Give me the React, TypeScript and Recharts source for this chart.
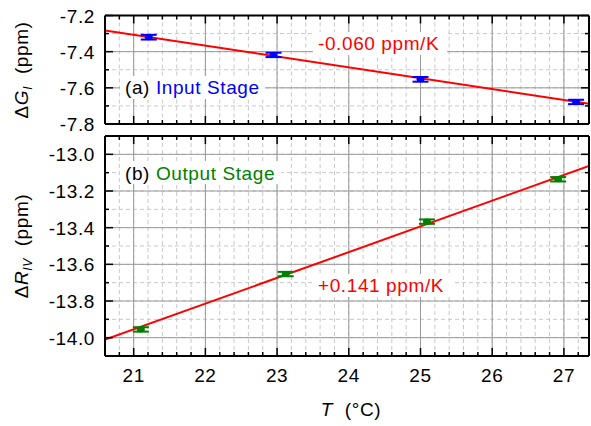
import React from 'react';
import { ComposedChart, XAxis, YAxis, CartesianGrid, ReferenceLine, Line, Scatter, ErrorBar } from 'recharts';

const FONT = '"Liberation Sans", Arial, Helvetica, sans-serif';

// temperature axis (°C)
const tempDomain: [number, number] = [20.6, 27.35];
const tempMajor = [21, 22, 23, 24, 25, 26, 27];
const tempMinor = [
    20.8, 21.2, 21.4, 21.6, 21.8, 22.2, 22.4, 22.6, 22.8, 23.2, 23.4, 23.6, 23.8,
    24.2, 24.4, 24.6, 24.8, 25.2, 25.4, 25.6, 25.8, 26.2, 26.4, 26.6, 26.8, 27.2,
];

// (a) input stage
const inputTemps = [21.21, 22.95, 25.0, 27.17];
const inputValues = [-7.32, -7.418, -7.553, -7.678];
const inputErrors = [0.013, 0.012, 0.013, 0.012];
const inputFitTemps = [20.6, 27.35];
const inputFitValues = [-7.283, -7.688];
const inputDomain: [number, number] = [-7.8, -7.2];
const inputMajor = [-7.8, -7.6, -7.4, -7.2];
const inputMinor = [-7.7, -7.5, -7.3];

// (b) output stage
const outputTemps = [21.1, 23.12, 25.09, 26.92];
const outputValues = [-13.955, -13.653, -13.367, -13.136];
const outputErrors = [0.012, 0.012, 0.012, 0.012];
const outputFitTemps = [20.6, 27.35];
const outputFitValues = [-14.011, -13.063];
const outputDomain: [number, number] = [-14.1, -12.9];
const outputMajor = [-14.0, -13.8, -13.6, -13.4, -13.2, -13.0];
const outputMinor = [-13.9, -13.7, -13.5, -13.3, -13.1];

const isIn = (list: number[], v: number) => list.some(m => Math.abs(m - v) < 1e-6);
const sortNum = (a: number, b: number) => a - b;

const axisLine = { stroke: '#000', strokeWidth: 2 };
const FS = 19;
const LS = 0.6;

const makeTick = (side: 'bottom' | 'top' | 'left' | 'right', majors: number[], showLabel: boolean) => (props: any) => {
    const { x, y, payload } = props;
    const v = payload.value;
    const major = isIn(majors, v);
    const len = major ? 8 : 4;
    let x2 = x, y2 = y;
    if (side === 'bottom') y2 = y - len;
    if (side === 'top') y2 = y + len;
    if (side === 'left') x2 = x + len;
    if (side === 'right') x2 = x - len;
    return (
        <g>
            <line x1={x} y1={y} x2={x2} y2={y2} stroke="#000" strokeWidth={1.5} />
            {showLabel && major && side === 'bottom' && (
                <text x={x} y={y + 25.5} textAnchor="middle" fontSize={FS} letterSpacing={LS} fill="#000" fontFamily={FONT}>{v}</text>
            )}
            {showLabel && major && side === 'left' && (
                <text x={x - 10} y={y + 7} textAnchor="end" fontSize={FS} letterSpacing={LS} fill="#000" fontFamily={FONT}>{v.toFixed(1)}</text>
            )}
        </g>
    );
};

interface PanelProps {
    height: number;
    margin: { top: number; right: number; bottom: number; left: number };
    domain: [number, number];
    major: number[];
    minor: number[];
    temps: number[];
    values: number[];
    errors: number[];
    fitTemps: number[];
    fitValues: number[];
    color: string;
    showXLabels: boolean;
}

const Panel: React.FC<PanelProps> = ({ height, margin, domain, major, minor, temps, values, errors, fitTemps, fitValues, color, showXLabels }) => {
    const xTicks = [...tempMajor, ...tempMinor].sort(sortNum);
    const yTicks = [...major, ...minor].sort(sortNum);
    const points = temps.map((t, i) => ({ x: t, y: values[i], err: errors[i] }));
    const fit = fitTemps.map((t, i) => ({ x: t, y: fitValues[i] }));
    return (
        <ComposedChart width={591} height={height} margin={margin}>
            <CartesianGrid xAxisId="b" yAxisId="l" stroke="#c8c8c8" strokeDasharray="4 3" strokeWidth={1} />
            {tempMajor.map(t => (
                <ReferenceLine key={'x' + t} xAxisId="b" yAxisId="l" x={t} stroke="#999" strokeWidth={1} />
            ))}
            {major.map(v => (
                <ReferenceLine key={'y' + v} xAxisId="b" yAxisId="l" y={v} stroke="#999" strokeWidth={1} />
            ))}
            <XAxis xAxisId="b" orientation="bottom" type="number" dataKey="x" domain={tempDomain} ticks={xTicks} interval={0}
                allowDataOverflow height={1} tickSize={0} tickMargin={0} tickLine={false} axisLine={axisLine}
                tick={makeTick('bottom', tempMajor, showXLabels)} />
            <XAxis xAxisId="t" orientation="top" type="number" dataKey="x" domain={tempDomain} ticks={xTicks} interval={0}
                allowDataOverflow height={1} tickSize={0} tickMargin={0} tickLine={false} axisLine={axisLine}
                tick={makeTick('top', tempMajor, false)} />
            <YAxis yAxisId="l" orientation="left" type="number" dataKey="y" domain={domain} ticks={yTicks} interval={0}
                allowDataOverflow width={105} tickSize={0} tickMargin={0} tickLine={false} axisLine={axisLine}
                tick={makeTick('left', major, true)} />
            <YAxis yAxisId="r" orientation="right" type="number" dataKey="y" domain={domain} ticks={yTicks} interval={0}
                allowDataOverflow width={1} tickSize={0} tickMargin={0} tickLine={false} axisLine={axisLine}
                tick={makeTick('right', major, false)} />
            <Line xAxisId="b" yAxisId="l" data={fit} dataKey="y" type="linear" stroke="#ff0000" strokeWidth={2}
                dot={false} activeDot={false} isAnimationActive={false} />
            <Scatter xAxisId="b" yAxisId="l" data={points} dataKey="y" fill={color} isAnimationActive={false}
                shape={(p: any) => <ellipse cx={p.cx} cy={p.cy} rx={4} ry={3} fill={color} />}>
                <ErrorBar dataKey="err" direction="y" width={8} stroke={color} strokeWidth={2} />
            </Scatter>
        </ComposedChart>
    );
};

const textStyle = { fontFamily: FONT, fontSize: FS, letterSpacing: LS } as const;

const App: React.FC = () => {
    return (
        <div style={{ position: 'absolute', left: 0, top: 0, width: 591, height: 426, background: '#fff', fontFamily: FONT }}>
            <div style={{ position: 'absolute', left: 0, top: 0 }}>
                <Panel height={145} margin={{ top: 14.5, right: 1, bottom: 20, left: 0 }}
                    domain={inputDomain} major={inputMajor} minor={inputMinor}
                    temps={inputTemps} values={inputValues} errors={inputErrors}
                    fitTemps={inputFitTemps} fitValues={inputFitValues} color="#0000ff" showXLabels={false} />
            </div>
            <div style={{ position: 'absolute', left: 0, top: 130 }}>
                <Panel height={296} margin={{ top: 5, right: 1, bottom: 69, left: 0 }}
                    domain={outputDomain} major={outputMajor} minor={outputMinor}
                    temps={outputTemps} values={outputValues} errors={outputErrors}
                    fitTemps={outputFitTemps} fitValues={outputFitValues} color="#008000" showXLabels={true} />
            </div>
            <svg width={591} height={426} style={{ position: 'absolute', left: 0, top: 0, pointerEvents: 'none' }}>
                <rect x={313} y={32} width={134} height={23} fill="#fff" />
                <text x={318} y={49.5} fill="#ff0000" style={textStyle}>-0.060 ppm/K</text>
                <rect x={120} y={76} width={145} height={23} fill="#fff" />
                <text x={125} y={94} style={textStyle}>
                    <tspan fill="#000">(a) </tspan><tspan fill="#0000ff">Input Stage</tspan>
                </text>
                <rect x={120} y={161} width={161} height={23} fill="#fff" />
                <text x={125} y={179.5} style={textStyle}>
                    <tspan fill="#000">(b) </tspan><tspan fill="#008000">Output Stage</tspan>
                </text>
                <rect x={313} y={274} width={139} height={23} fill="#fff" />
                <text x={318} y={292} fill="#ff0000" style={textStyle}>+0.141 ppm/K</text>

                <text transform="rotate(-90 21 70)" x={21} y={77} textAnchor="middle" fill="#000" style={textStyle}>
                    <tspan>Δ</tspan><tspan fontStyle="italic">G</tspan>
                    <tspan fontStyle="italic" fontSize={12} dy={4}>I</tspan>
                    <tspan dy={-4}>{'\u00a0\u00a0(ppm)'}</tspan>
                </text>
                <text transform="rotate(-90 21 246)" x={21} y={253} textAnchor="middle" fill="#000" style={textStyle}>
                    <tspan>Δ</tspan><tspan fontStyle="italic">R</tspan>
                    <tspan fontStyle="italic" fontSize={12} dy={4}>IV</tspan>
                    <tspan dy={-4}>{'\u00a0\u00a0(ppm)'}</tspan>
                </text>
                <text x={351} y={416} textAnchor="middle" fill="#000" style={textStyle}>
                    <tspan fontStyle="italic">T</tspan><tspan>{'\u00a0\u00a0(°C)'}</tspan>
                </text>
            </svg>
        </div>
    );
};

export default App;
